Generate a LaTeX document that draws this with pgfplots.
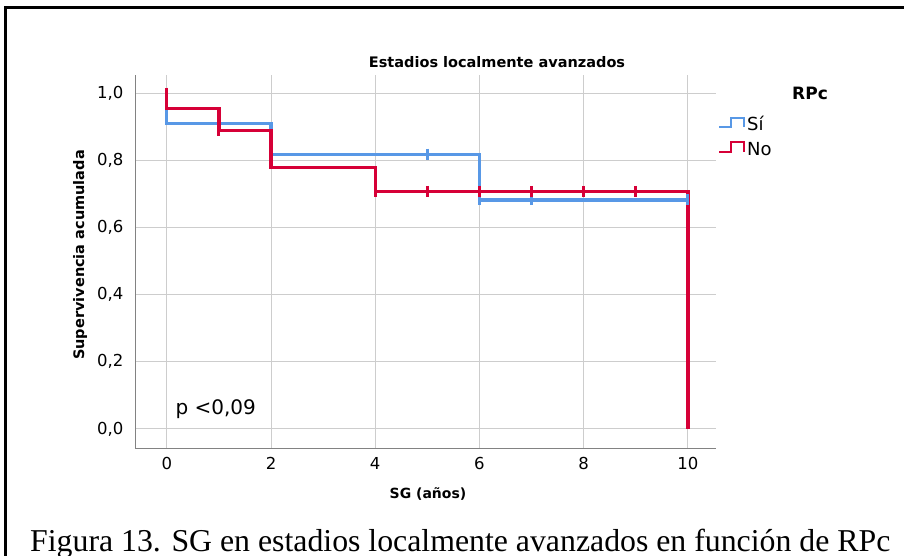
\documentclass[border=0pt]{standalone}
\usepackage{pgfplots}
\pgfplotsset{compat=1.18}
\usepackage{fontspec}
\setmainfont{DejaVu Sans}
\newfontfamily\capfont{Liberation Serif}
\definecolor{siblue}{RGB}{88,152,230}
\definecolor{nored}{RGB}{214,0,55}
\definecolor{gridgray}{RGB}{205,205,205}
\definecolor{axgray}{RGB}{130,130,130}
\begin{document}
\begin{tikzpicture}
\useasboundingbox (0pt,0pt) rectangle (904pt,-556pt);
% frame
\draw[line width=3pt,black] (5.5pt,-556pt) -- (5.5pt,-8pt) -- (904pt,-8pt);
\begin{axis}[
  at={(135pt,-448pt)}, anchor=south west,
  scale only axis, width=581pt, height=373pt,
  xmin=-0.61, xmax=10.54, ymin=-0.057, ymax=1.054,
  axis x line=bottom, axis y line=left,
  axis line style={axgray, line width=1pt, -},
  xtick={0,2,...,10}, ytick={0,0.2,...,1.0},
  major tick length=0pt,
  grid=major, major grid style={gridgray, line width=1pt},
  tick label style={font=\fontsize{16.5}{18}\selectfont},
  xticklabel style={yshift=-6pt},
  yticklabel style={xshift=-8pt},
  /pgf/number format/assume math mode=true,
  yticklabel={\pgfmathprintnumber[use comma,fixed,fixed zerofill,precision=1]{\tick}},
  xticklabel={\pgfmathprintnumber{\tick}},
  clip=false,
]
% Kaplan-Meier steps: RPc = Sí
\addplot[const plot, siblue, line width=3.4pt] coordinates {
  (0,1.0) (0,0.909) (2,0.818) (6,0.682) (10,0.682)};
% Kaplan-Meier steps: RPc = No
\addplot[const plot, nored, line width=3.4pt] coordinates {
  (0,1.0) (0,0.955) (1,0.889) (2,0.778) (4,0.707) (10,0)};
% censored cases
\addplot[only marks, mark=|, mark size=5.5pt, siblue, line width=3pt] coordinates {
  (5,0.818) (6,0.682) (7,0.682) (10,0.682)};
\addplot[only marks, mark=|, mark size=5.5pt, nored, line width=3pt] coordinates {
  (0,1.0) (1,0.889) (4,0.707) (5,0.707) (6,0.707) (7,0.707) (8,0.707) (9,0.707)};
\node[anchor=west, font=\fontsize{20}{22}\selectfont] at (axis cs:0.1,0.06) {p <0,09};
\end{axis}
% titles
\node[font=\bfseries\fontsize{14.5}{16}\selectfont] at (497pt,-62pt) {Estadios localmente avanzados};
\node[font=\bfseries\fontsize{14}{16}\selectfont] at (428pt,-494pt) {SG (años)};
\node[font=\bfseries\fontsize{14.5}{16}\selectfont, rotate=90] at (80pt,-255pt) {Supervivencia acumulada};
% legend
\node[font=\bfseries\fontsize{17}{19}\selectfont] at (810pt,-93pt) {RPc};
\draw[siblue, line width=1.3pt] (719pt,-127pt) -- (731pt,-127pt) -- (731pt,-118pt) -- (744pt,-118pt) -- (744pt,-127pt);
\draw[nored, line width=1.3pt] (719pt,-152pt) -- (731pt,-152pt) -- (731pt,-142pt) -- (744pt,-142pt) -- (744pt,-152pt);
\node[anchor=west, inner sep=0pt, font=\fontsize{18}{20}\selectfont] at (747pt,-123pt) {Sí};
\node[anchor=west, inner sep=0pt, font=\fontsize{18}{20}\selectfont] at (747pt,-149pt) {No};
% caption
\node[anchor=base west, inner sep=0pt, font=\capfont\fontsize{31.8}{34}\selectfont] at (30pt,-551pt) {Figura 13. SG en estadios localmente avanzados en función de RPc};
\end{tikzpicture}
\end{document}
